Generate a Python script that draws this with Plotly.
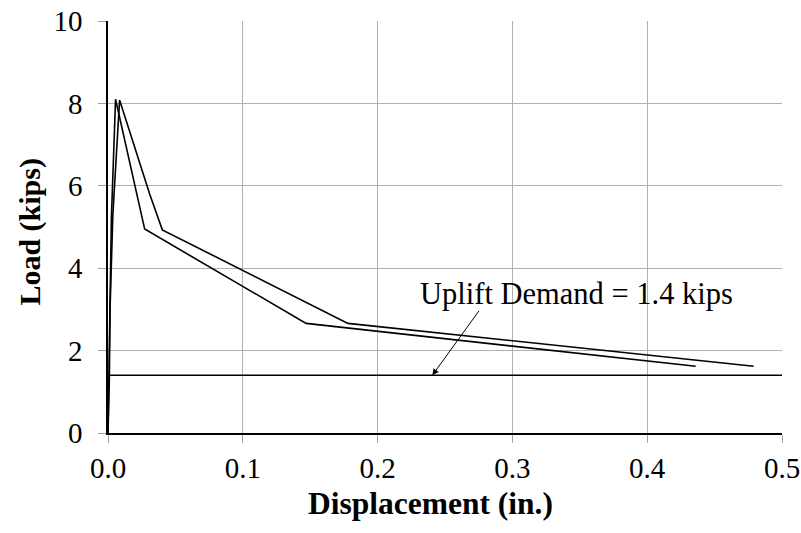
import plotly.graph_objects as go

# Data
disp_a = [0.0, 0.0003, 0.0008, 0.0012, 0.0025, 0.0056, 0.0272, 0.147, 0.436]
load_a = [0.0, 0.6, 1.3, 2.9, 5.2, 8.10, 4.95, 2.66, 1.62]
disp_b = [0.0, 0.0004, 0.0010, 0.0015, 0.0036, 0.0086, 0.0309, 0.0403, 0.178, 0.479]
load_b = [0.0, 0.6, 1.3, 3.0, 5.3, 8.08, 5.80, 4.93, 2.66, 1.62]
demand_x = [0.0, 0.5]
demand_y = [1.4, 1.4]
x_ticks = [0.0, 0.1, 0.2, 0.3, 0.4, 0.5]
x_labels = ["0.0", "0.1", "0.2", "0.3", "0.4", "0.5"]
y_ticks = [0, 2, 4, 6, 8, 10]

FONT = "Liberation Serif, Times New Roman, serif"
fig = go.Figure()
for xs, ys in [(disp_a, load_a), (disp_b, load_b)]:
    fig.add_trace(go.Scatter(x=xs, y=ys, mode="lines",
                             line=dict(color="black", width=1.6),
                             showlegend=False, hoverinfo="skip"))
fig.add_trace(go.Scatter(x=demand_x, y=demand_y, mode="lines",
                         line=dict(color="black", width=1.4),
                         showlegend=False, hoverinfo="skip"))

fig.add_annotation(x=0.2406, y=1.4, ax=0.276, ay=3.0, axref="x", ayref="y",
                   xref="x", yref="y", text="", showarrow=True,
                   arrowhead=2, arrowsize=1.3, arrowwidth=1, arrowcolor="black")
fig.add_annotation(x=0.3474, y=3.38, xref="x", yref="y",
                   text="Uplift Demand = 1.4 kips", showarrow=False,
                   font=dict(family=FONT, size=30.5, color="black"),
                   xanchor="center", yanchor="middle")

# Axis titles
fig.add_annotation(x=0.479, y=-0.17, xref="paper", yref="paper",
                   text="<b>Displacement (in.)</b>", showarrow=False,
                   font=dict(family=FONT, size=31.5, color="black"),
                   xanchor="center", yanchor="middle")
fig.add_annotation(x=-0.115, y=0.49, xref="paper", yref="paper",
                   text="<b>Load (kips)</b>", showarrow=False, textangle=-90,
                   font=dict(family=FONT, size=30, color="black"),
                   xanchor="center", yanchor="middle")

fig.update_layout(
    width=801, height=533,
    margin=dict(l=108, r=19, t=21, b=100),
    paper_bgcolor="white", plot_bgcolor="white",
    font=dict(family=FONT, color="black"),
)
fig.update_xaxes(range=[0, 0.5], tickvals=x_ticks, ticktext=x_labels,
                 automargin=False,
                 showgrid=True, gridcolor="#b0b0b0", gridwidth=1,
                 showline=True, linecolor="black", linewidth=1.5,
                 ticks="outside", ticklen=8, tickcolor="#a0a0a0",
                 tickfont=dict(family=FONT, size=29, color="black"),
                 zeroline=False)
fig.update_yaxes(range=[0, 10], tickvals=y_ticks,
                 automargin=False, ticklabelstandoff=10,
                 showgrid=True, gridcolor="#b0b0b0", gridwidth=1,
                 showline=True, linecolor="black", linewidth=1.5,
                 ticks="outside", ticklen=8, tickcolor="#a0a0a0",
                 tickfont=dict(family=FONT, size=29, color="black"),
                 zeroline=False)
fig.write_html("out.html")
